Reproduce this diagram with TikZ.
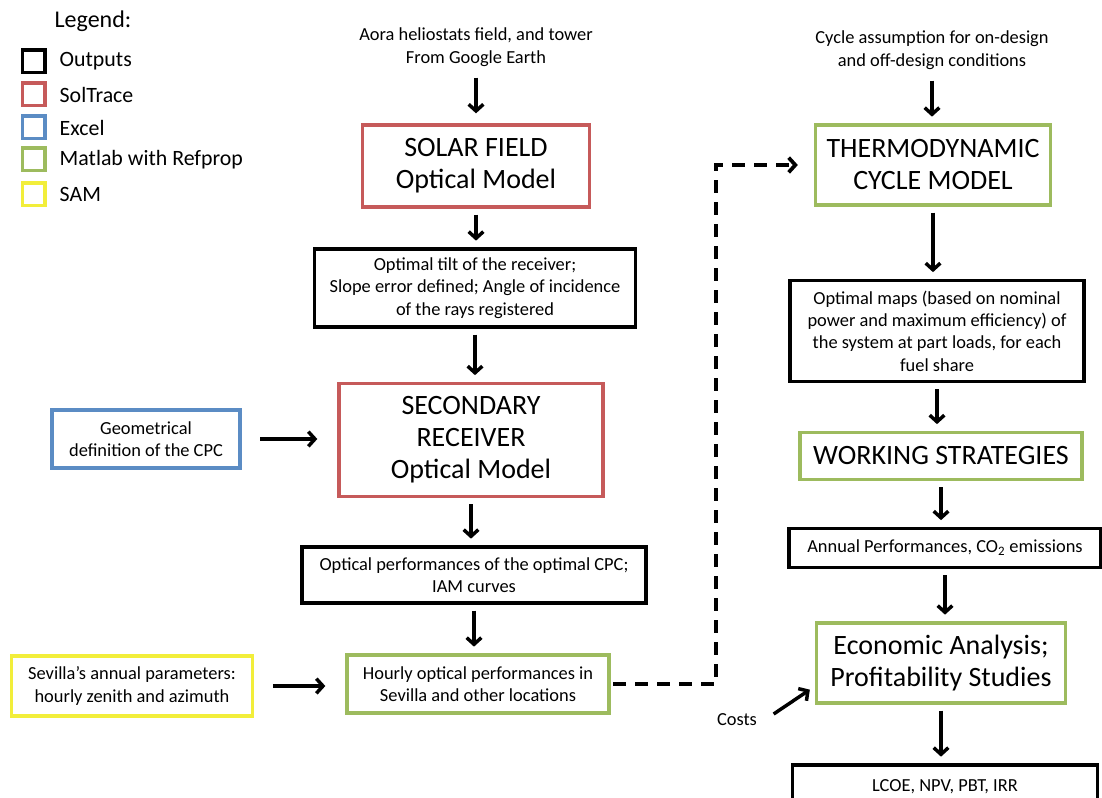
\documentclass[tikz,border=0pt]{standalone}
\usepackage{fontspec}
\setmainfont{Carlito}
\definecolor{soltracered}{HTML}{C65A5A}
\definecolor{excelblue}{HTML}{5B8CC4}
\definecolor{matlabgreen}{HTML}{9DBB5E}
\definecolor{samyellow}{HTML}{F2EE3A}
\usetikzlibrary{arrows.meta,positioning}

\begin{document}
\begin{tikzpicture}[x=0.75pt,y=-0.75pt,
  box/.style={draw,line width=2.5pt,align=center,inner sep=1pt},
  big/.style={font=\fontsize{21}{24}\selectfont},
  small/.style={font=\fontsize{13.8}{16.8}\selectfont},
  keyfont/.style={font=\fontsize{16.4}{18}\selectfont},
  keybox/.style={line width=2.5pt,minimum size=17pt,inner sep=0pt},
  arr/.style={-{Straight Barb[length=5pt,width=11pt]},line width=2.6pt,shorten <=4.5pt,shorten >=5pt},
  sidearr/.style={arr,shorten <=14pt,shorten >=15pt},
  dasharr/.style={arr,dash pattern=on 9.5pt off 7pt,line width=2.8pt,shorten <=2pt,shorten >=12pt}]
  \useasboundingbox (0,0) rectangle (1102,798);

  % Legend
  \node[font=\fontsize{18}{20}\selectfont] (legend) at (93,21) {Legend:};
  \node[keybox,draw=black] (key1) at (33.5,61.5) {};
  \node[keyfont,anchor=west] (lab1) at (55,61.5) {Outputs};
  \node[keybox,draw=soltracered] (key2) at (33.5,94.5) {};
  \node[keyfont,anchor=west] (lab2) at (55,94.5) {SolTrace};
  \node[keybox,draw=excelblue] (key3) at (33.5,127.5) {};
  \node[keyfont,anchor=west] (lab3) at (55,127.5) {Excel};
  \node[keybox,draw=matlabgreen] (key4) at (33.5,159.5) {};
  \node[keyfont,anchor=west] (lab4) at (55,159.5) {Matlab with Refprop};
  \node[keybox,draw=samyellow] (key5) at (33.5,194.5) {};
  \node[keyfont,anchor=west] (lab5) at (55,194.5) {SAM};

  % Optical chain
  \node[small,align=center] (aora) at (476,47) {Aora heliostats field, and tower\\From Google Earth};
  \node[box,big,draw=soltracered,minimum width=170pt,minimum height=61.5pt] (field) at (476,166) {SOLAR FIELD\\Optical Model};
  \node[box,small,minimum width=240.75pt,minimum height=58.5pt] (tilt) at (475,288) {Optimal tilt of the receiver;\\Slope error defined; Angle of incidence\\of the rays registered};
  \node[box,big,draw=soltracered,minimum width=198pt,minimum height=84.75pt] (secondary) at (471,440) {SECONDARY\\RECEIVER\\Optical Model};
  \node[box,small,draw=excelblue,minimum width=141pt,minimum height=43.5pt] (geometry) at (146,439) {Geometrical\\definition of the CPC};
  \node[box,small,minimum width=258pt,minimum height=42pt] (optperf) at (474,575) {Optical performances of the optimal CPC;\\IAM curves};
  \node[box,small,draw=matlabgreen,minimum width=196.5pt,minimum height=43.5pt] (hourly) at (478,684) {Hourly optical performances in\\Sevilla and other locations};
  \node[box,small,draw=samyellow,minimum width=180.75pt,minimum height=45pt] (sevilla) at (132,686) {Sevilla's annual parameters:\\hourly zenith and azimuth};

  % Cycle chain
  \node[small,align=center] (cycle) at (932,50) {Cycle assumption for on-design\\and off-design conditions};
  \node[box,big,draw=matlabgreen,minimum width=176.25pt,minimum height=60pt] (thermo) at (933,165) {THERMODYNAMIC\\CYCLE MODEL};
  \node[box,small,minimum width=220.5pt,minimum height=75.75pt] (maps) at (937,331) {Optimal maps (based on nominal\\power and maximum efficiency) of\\the system at part loads, for each\\fuel share};
  \node[box,big,draw=matlabgreen,minimum width=211.5pt,minimum height=35.25pt] (working) at (941,456) {WORKING STRATEGIES};
  \node[box,small,minimum width=234pt,minimum height=29.25pt] (annual) at (945,548) {Annual Performances, CO\textsubscript{2} emissions};
  \node[box,big,draw=matlabgreen,minimum width=186.75pt,minimum height=60pt] (economic) at (941,663) {Economic Analysis;\\Profitability Studies};
  \node[small] (costs) at (737,720) {Costs};
  \node[box,small,minimum width=228.75pt,minimum height=45pt,text depth=14pt] (lcoe) at (945,795) {LCOE, NPV, PBT, IRR};
  \coordinate (bend) at (716,400);

  % Arrows
  \draw[arr,shorten <=5pt,shorten >=7.5pt] (aora) -- (aora |- field.north);
  \draw[arr] (field) -- (field |- tilt.north);
  \draw[arr] (tilt) -- (tilt |- secondary.north);
  \draw[sidearr] (geometry.east) -- (geometry.east -| secondary.west);
  \draw[arr] (secondary) -- (secondary |- optperf.north);
  \draw[arr] (optperf) -- (optperf |- hourly.north);
  \draw[sidearr] (sevilla.east) -- (sevilla.east -| hourly.west);
  \draw[dasharr] (hourly.east) -- (hourly.east -| bend) |- (thermo.west);
  \draw[arr,shorten <=5pt,shorten >=5pt] (cycle) -- (cycle |- thermo.north);
  \draw[arr] (thermo) -- (thermo |- maps.north);
  \draw[arr] (maps) -- (maps |- working.north);
  \draw[arr] (working) -- (working |- annual.north);
  \draw[arr] (annual) -- (annual |- economic.north);
  \draw[arr,shorten <=0pt,shorten >=0pt] ([shift={(12,-6)}]costs.east) -- ([shift={(-5,-15)}]economic.south west);
  \draw[arr] (economic) -- (economic |- lcoe.north);
\end{tikzpicture}
\end{document}
